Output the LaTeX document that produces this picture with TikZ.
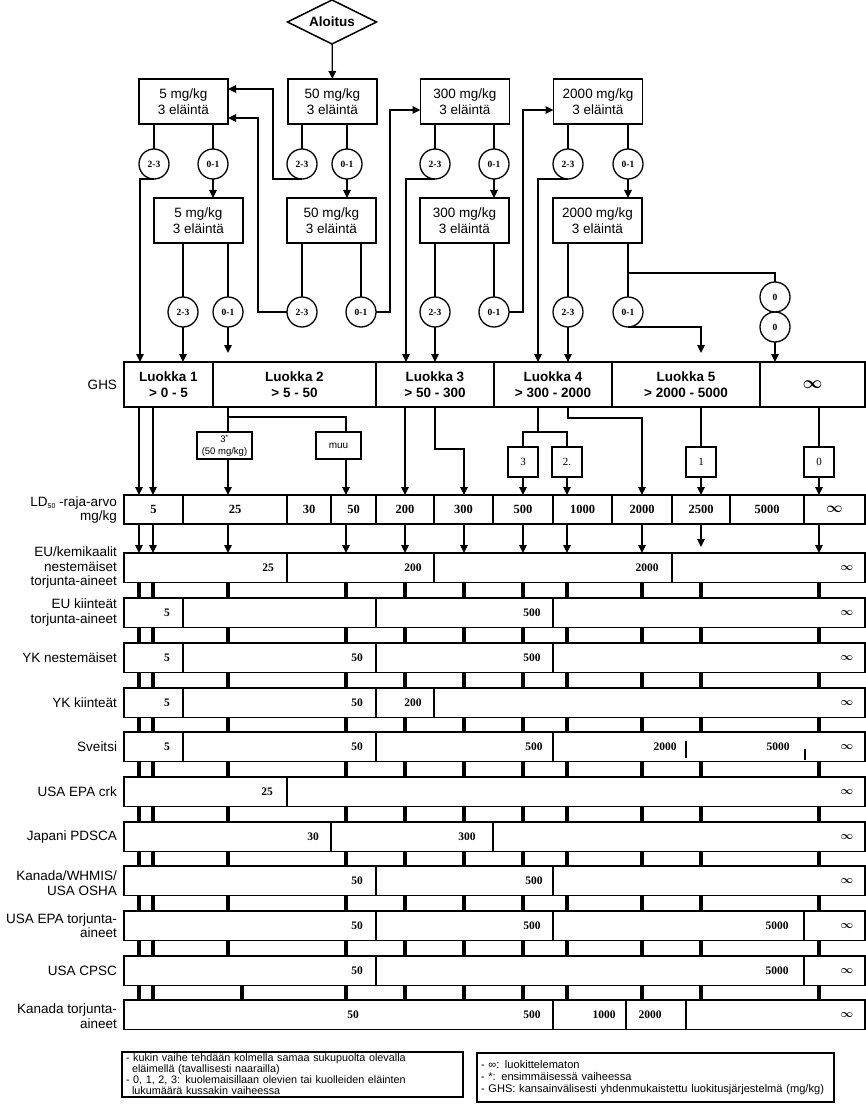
\documentclass[tikz,border=0pt]{standalone}
\usepackage{fontspec}
\setmainfont{Liberation Sans}
\newfontfamily\sernum{Liberation Serif}
\usetikzlibrary{arrows.meta,shapes.geometric}
\newcommand\bandrow[3]{%
  \node[bandbox] (band#1) at (124,#2) {};
  \foreach \xx in {#3} \draw[div] (\xx,#2) -- ++(0,29.5);}
\newcommand\bandvals[3]{%
  \foreach \xx/\tt [count=\ii] in {#3} \node[val] (v#1-\ii) at (\xx,#2) {\tt};
  \node[infv] (inf#1) at (847,#2) {$\infty$};}
\begin{document}
\begin{tikzpicture}[x=1pt,y=-1pt,
  every node/.style={inner sep=0pt, outer sep=0pt},
  ln/.style={line width=1.3pt},
  arr/.style={line width=1.3pt,-{Triangle[length=8pt,width=7.5pt]}},
  flow/.style={draw,line width=1.5pt,minimum width=89pt,minimum height=45pt,align=center,font=\fontsize{13.5}{15.5}\selectfont},
  res/.style={draw,circle,line width=1.3pt,minimum size=30pt,font=\fontsize{9.5}{10}\selectfont\sernum\bfseries},
  start/.style={draw,diamond,aspect=2,line width=1.5pt,minimum width=89pt,minimum height=44pt,font=\fontsize{13.5}{15}\selectfont\bfseries},
  ghscell/.style={draw,line width=1.5pt,minimum height=45pt,anchor=north west,align=center,font=\fontsize{13.5}{16.5}\selectfont\bfseries},
  ldcell/.style={draw,line width=1.5pt,minimum height=29pt,anchor=north west,font=\fontsize{12.5}{13}\selectfont\sernum\bfseries},
  bandbox/.style={draw,line width=1.5pt,minimum width=741pt,minimum height=29.5pt,anchor=north west},
  div/.style={line width=1.5pt},
  val/.style={font=\fontsize{11.5}{12}\selectfont\sernum\bfseries},
  infv/.style={font=\fontsize{11}{12}\selectfont\boldmath},
  rowlab/.style={anchor=east,align=right,font=\fontsize{13.5}{14.5}\selectfont},
  sbox/.style={draw,line width=1.3pt,minimum width=30pt,minimum height=30pt,font=\fontsize{11}{12}\selectfont\sernum},
  tbox/.style={draw,line width=1.3pt,minimum height=27pt,align=center,font=\fontsize{10}{12}\selectfont},
  tick/.style={line width=3.2pt},
  legbox/.style={draw,line width=1.3pt,anchor=north west,align=left,inner xsep=4pt,inner ysep=0pt}
]
\useasboundingbox[fill=white] (0,0) rectangle (866,1110);

% ---------- flow part ----------
\node[start] (start) at (332,22) {Aloitus};
\node[flow] (a5) at (183.5,101.5) {5 mg/kg\\3 eläintä};
\node[flow] (a50) at (332.5,101.5) {50 mg/kg\\3 eläintä};
\node[flow] (a300) at (465,101.5) {300 mg/kg\\3 eläintä};
\node[flow] (a2000) at (598,101.5) {2000 mg/kg\\3 eläintä};
\node[flow] (b5) at (198.5,220.5) {5 mg/kg\\3 eläintä};
\node[flow] (b50) at (331.5,220.5) {50 mg/kg\\3 eläintä};
\node[flow] (b300) at (464.5,220.5) {300 mg/kg\\3 eläintä};
\node[flow] (b2000) at (597.5,220.5) {2000 mg/kg\\3 eläintä};

\foreach \n/\x/\t in {ra5x/154/2-3, ra5y/213/0-1, ra50x/302/2-3, ra50y/347/0-1,
  ra300x/435/2-3, ra300y/494/0-1, ra2000x/568/2-3, ra2000y/628/0-1}
  \node[res] (\n) at (\x,164) {\t};
\foreach \n/\x/\t in {rb5x/183/2-3, rb5y/228/0-1, rb50x/302/2-3, rb50y/361/0-1,
  rb300x/435/2-3, rb300y/494/0-1, rb2000x/568/2-3, rb2000y/628/0-1}
  \node[res] (\n) at (\x,312) {\t};
\node[res] (z1) at (775,297) {0};
\node[res] (z2) at (775,327) {0};

\draw[arr] (start) -- (a50);
% box -> circle lines
\foreach \b/\c in {a5/ra5x, a5/ra5y, a50/ra50x, a50/ra50y, a300/ra300x, a300/ra300y,
  a2000/ra2000x, a2000/ra2000y, b5/rb5x, b5/rb5y, b50/rb50x, b50/rb50y,
  b300/rb300x, b300/rb300y, b2000/rb2000x, b2000/rb2000y}
  \draw[ln] (\b.south -| \c) -- (\c);
% 0-1 -> next box
\draw[arr] (ra5y) -- (ra5y |- b5.north);
\draw[arr] (ra50y) -- (ra50y |- b50.north);
\draw[arr] (ra300y) -- (ra300y |- b300.north);
\draw[arr] (ra2000y) -- (ra2000y |- b2000.north);
% loops back / forward
\coordinate (k1) at (273,89);
\coordinate (k2) at (258,118);
\coordinate (k3) at (390,110);
\coordinate (k4) at (523,110);
\draw[arr] (ra50x.south) -| (k1) -- (k1 -| a5.east);
\draw[arr] (rb50x.west) -| (k2) -- (k2 -| a5.east);
\draw[arr] (rb50y.east) -| (k3) -- (k3 -| a300.west);
\draw[arr] (rb300y.east) -| (k4) -- (k4 -| a2000.west);

% ---------- GHS row ----------
\node[ghscell,minimum width=89pt] (ghs1) at (124,362) {Luokka 1\\> 0 - 5};
\node[ghscell,minimum width=163pt] (ghs2) at (213,362) {Luokka 2\\> 5 - 50};
\node[ghscell,minimum width=118pt] (ghs3) at (376,362) {Luokka 3\\> 50 - 300};
\node[ghscell,minimum width=118pt] (ghs4) at (494,362) {Luokka 4\\> 300 - 2000};
\node[ghscell,minimum width=148pt] (ghs5) at (612,362) {Luokka 5\\> 2000 - 5000};
\node[ghscell,minimum width=105pt,font=\fontsize{19}{20}\selectfont\boldmath] (ghs6) at (760,362) {$\infty$};

\coordinate (t1) at (140,362);
\coordinate (t2) at (183,362);
\coordinate (t3) at (228,353);
\coordinate (t4) at (406,362);
\coordinate (t5) at (435,362);
\coordinate (t6) at (538,362);
\coordinate (t7) at (568,362);
\coordinate (t8) at (701,353);
\coordinate (t9) at (775,362);
\coordinate (br) at (628,273);
\draw[arr] (ra5x.south) -| (t1);
\draw[arr] (rb5x) -- (t2);
\draw[arr] (rb5y) -- (t3);
\draw[arr] (ra300x.south) -| (t4);
\draw[arr] (rb300x) -- (t5);
\draw[arr] (ra2000x.south) -| (t6);
\draw[arr] (rb2000x) -- (t7);
\draw[arr] (rb2000y.south) -| (t8);
\draw[ln] (br) -| (z1);
\draw[arr] (z2) -- (t9);

% ---------- columns ----------
\coordinate (x1) at (139,0);
\coordinate (x2) at (153,0);
\coordinate (x3) at (228,0);
\coordinate (x3b) at (242,0);
\coordinate (x4) at (346,0);
\coordinate (x5) at (405,0);
\coordinate (x6) at (464,0);
\coordinate (x7) at (523,0);
\coordinate (x8) at (567,0);
\coordinate (x9) at (642,0);
\coordinate (x10) at (701,0);
\coordinate (x11) at (819,0);

% ---------- LD50 row ----------
\foreach \a/\b/\t [count=\i] in {124/183/5, 183/287/25, 287/331/30, 331/376/50, 376/434/200,
  434/493/300, 493/553/500, 553/612/1000, 612/672/2000, 672/730/2500, 730/804/5000}
  \node[ldcell,minimum width={\b-\a}] (ld\i) at (\a,495) {\t};
\node[ldcell,minimum width=61pt,font=\fontsize{14}{14}\selectfont\boldmath] (ld12) at (804,495) {$\infty$};

% ---------- between GHS and LD50 ----------
\node[tbox,minimum width=55pt,font=\fontsize{9.5}{11.5}\selectfont] (s3) at (224.5,445.5) {3\textsuperscript{*}\\(50 mg/kg)};
\node[tbox,minimum width=45pt] (smuu) at (338.5,445.5) {muu};
\node[sbox] (bx3) at (523,462) {3};
\node[sbox] (bx2) at (567,462) {2.};
\node[sbox] (bx1) at (701,462) {1};
\node[sbox] (bx0) at (819,462) {0};
\coordinate (j1) at (228,417);
\coordinate (j2) at (435,449);
\coordinate (j3) at (538,432);
\coordinate (j4) at (568,418);

\draw[arr] (ghs1.south -| x1) -- (ld1.north -| x1);
\draw[arr] (ghs1.south -| x2) -- (ld1.north -| x2);
\draw[ln] (ghs2.south -| x3) -- (s3.north -| x3);
\draw[ln] (j1) -| (smuu.north -| x4);
\draw[arr] (s3.south -| x3) -- (ld2.north -| x3);
\draw[arr] (smuu.south -| x4) -- (ld4.north -| x4);
\draw[arr] (ghs3.south -| x5) -- (ld5.north -| x5);
\draw[arr] (ghs3.south -| j2) -- (j2) -| (ld6.north -| x6);
\draw[ln] (ghs4.south -| j3) -- (j3);
\draw[ln] (bx3.north) |- (j3) -| (bx2.north);
\draw[arr] (bx3) -- (ld7.north -| x7);
\draw[arr] (bx2) -- (ld8.north -| x8);
\draw[arr] (ghs4.south -| j4) -- (j4) -| (ld9.north -| x9);
\draw[ln] (ghs5.south -| bx1) -- (bx1);
\draw[arr] (bx1) -- (ld10.north -| x10);
\draw[ln] (ghs6.south -| bx0) -- (bx0);
\draw[arr] (bx0) -- (ld12.north -| x11);

% ---------- bands ----------
\bandrow{1}{553}{287,434,672}
\bandrow{2}{598}{183,376,553}
\bandrow{3}{643}{183,376,553}
\bandrow{4}{688}{183,376,434}
\bandrow{5}{732}{183,376,553}
\bandrow{6}{777}{287}
\bandrow{7}{822}{331,493}
\bandrow{8}{866}{376,553}
\bandrow{9}{911}{376,553,804}
\bandrow{10}{956}{376,804}
\bandrow{11}{1000}{553,626,686}

\bandvals{1}{567.75}{268/25, 413/200, 647/2000}
\bandvals{2}{612.75}{167/5, 532/500}
\bandvals{3}{657.75}{167/5, 357/50, 532/500}
\bandvals{4}{702.75}{167/5, 357/50, 413/200}
\bandvals{5}{746.75}{167/5, 357/50, 534/500, 665/2000, 778/5000}
\bandvals{6}{791.75}{267/25}
\bandvals{7}{836.75}{313/30, 467/300}
\bandvals{8}{880.75}{357/50, 534/500}
\bandvals{9}{925.75}{357/50, 532/500, 777/5000}
\bandvals{10}{970.75}{357/50, 777/5000}
\bandvals{11}{1014.75}{353/50, 532/500, 604/1000, 650/2000}
\draw[line width=1.2pt] (686,741) -- (686,758);
\draw[line width=1.6pt] (805,749) -- (805,760);

% arrows LD50 -> first band
\foreach \c in {x1,x2,x3,x4,x5,x6,x7,x8,x9,x11}
  \draw[arr] (ld1.south -| \c) -- (band1.north -| \c);
\coordinate (t10) at (701,547);
\draw[arr] (ld1.south -| x10) -- (t10);

% ticks between bands
\foreach \k [evaluate=\k as \kk using int(\k+1)] in {1,...,9}
  \foreach \c in {x1,x2,x3,x4,x5,x6,x7,x8,x9,x10,x11}
    \draw[tick] (band\k.south -| \c) -- (band\kk.north -| \c);
\foreach \c in {x1,x2,x3b,x4,x5,x6,x7,x8,x9,x10,x11}
  \draw[tick] (band10.south -| \c) -- (band11.north -| \c);

% ---------- row labels ----------
\node[rowlab] (lghs) at (117,385) {GHS};
\node[rowlab] (lld) at (117,510) {LD\raisebox{-2.5pt}{\fontsize{7}{8}\selectfont 50} -raja-arvo\\mg/kg};
\node[rowlab] (lab1) at (117,567.75) {EU/kemikaalit\\nestemäiset\\torjunta-aineet};
\node[rowlab] (lab2) at (117,612.75) {EU kiinteät\\torjunta-aineet};
\node[rowlab] (lab3) at (117,657.75) {YK nestemäiset};
\node[rowlab] (lab4) at (117,702.75) {YK kiinteät};
\node[rowlab] (lab5) at (117,746.75) {Sveitsi};
\node[rowlab] (lab6) at (117,791.75) {USA EPA crk};
\node[rowlab] (lab7) at (117,836.75) {Japani PDSCA};
\node[rowlab] (lab8) at (117,883) {Kanada/WHMIS/\\USA OSHA};
\node[rowlab] (lab9) at (117,925.75) {USA EPA torjunta-\\aineet};
\node[rowlab] (lab10) at (117,970.75) {USA CPSC};
\node[rowlab] (lab11) at (117,1016) {Kanada torjunta-\\aineet};

% ---------- legends ----------
\node[legbox,minimum width=341pt,minimum height=45pt,text width=333pt,font=\fontsize{10.8}{11}\selectfont] (leg1) at (122,1052)
  {- kukin vaihe tehdään kolmella samaa sukupuolta olevalla\\
   \hspace*{6pt}eläimellä (tavallisesti naarailla)\\
   - 0, 1, 2, 3: kuolemaisillaan olevien tai kuolleiden eläinten\\
   \hspace*{6pt}lukumäärä kussakin vaiheessa};
\node[legbox,minimum width=357pt,minimum height=49pt,text width=349pt,font=\fontsize{11.1}{12}\selectfont] (leg2) at (477,1053)
  {- ∞: luokittelematon\\
   - *: ensimmäisessä vaiheessa\\
   - GHS: kansainvälisesti yhdenmukaistettu luokitusjärjestelmä (mg/kg)};
\end{tikzpicture}
\end{document}
